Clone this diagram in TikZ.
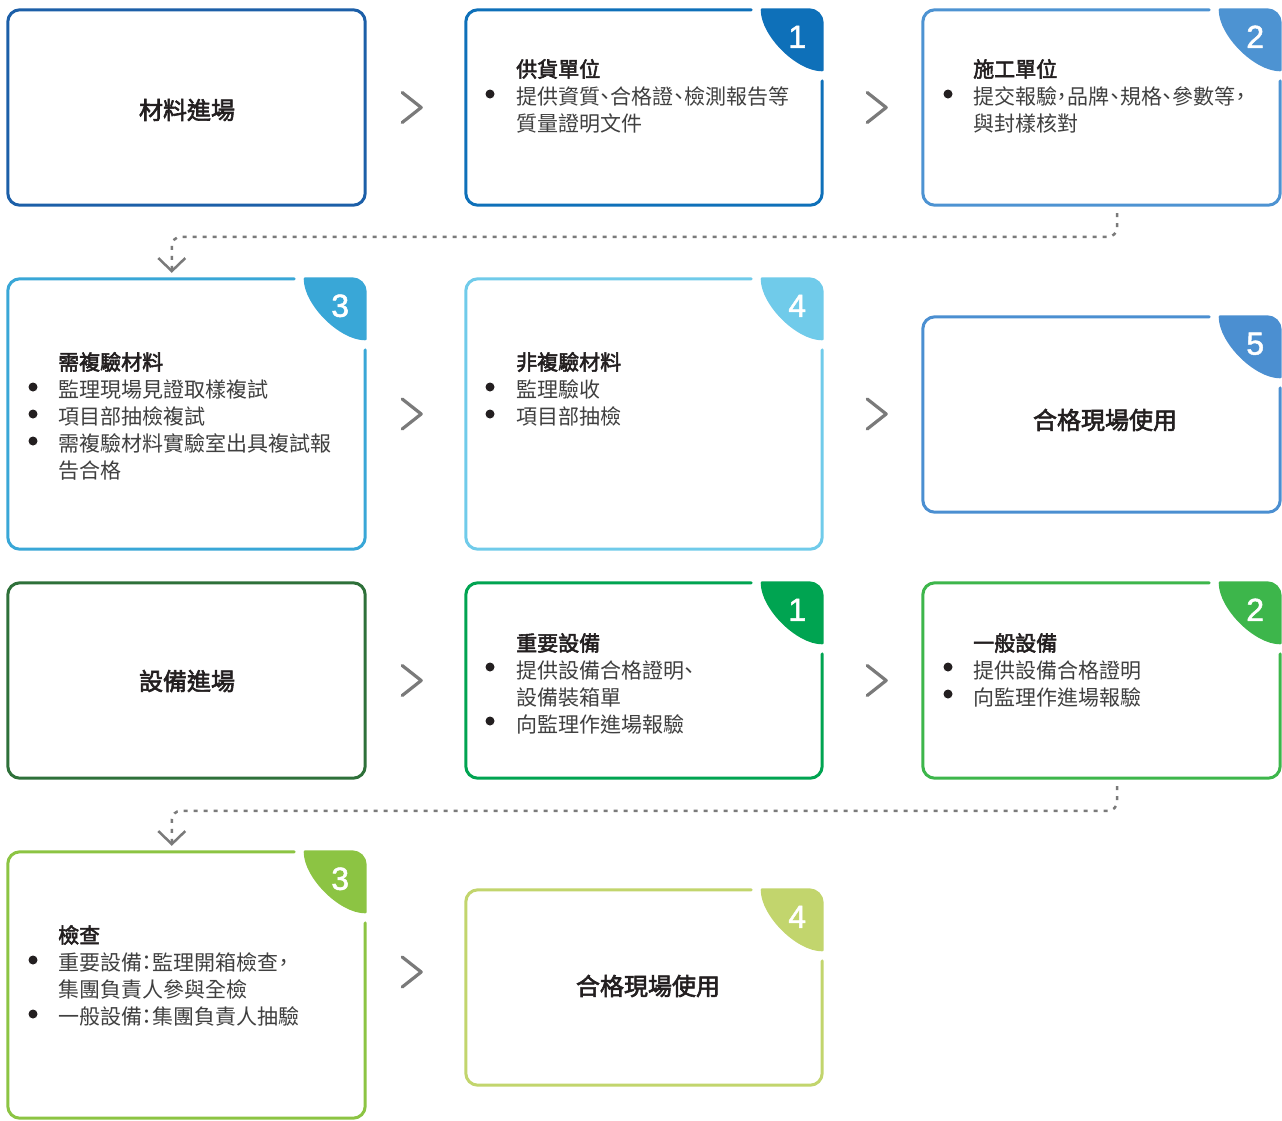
\documentclass[tikz,border=0pt]{standalone}
\usepackage{fontspec}
\setmainfont{Noto Sans CJK TC}[RawFeature={+palt}]
\newfontfamily\medfont{Noto Sans CJK TC}[RawFeature={+palt}, FakeBold=2.5]
\newfontfamily\numfont{Liberation Sans}[FakeBold=1.5]
\usetikzlibrary{calc,fit,arrows.meta}
\definecolor{cA1}{HTML}{1C5FA8}
\definecolor{cA2}{HTML}{0E70B9}
\definecolor{cA3}{HTML}{4D93D2}
\definecolor{cB1}{HTML}{39A7D7}
\definecolor{cB2}{HTML}{70CBEA}
\definecolor{cB3}{HTML}{4B8FD1}
\definecolor{cC1}{HTML}{2E7039}
\definecolor{cC2}{HTML}{00A451}
\definecolor{cC3}{HTML}{3DB64B}
\definecolor{cD1}{HTML}{8CC443}
\definecolor{cD2}{HTML}{C2D56D}
\definecolor{titlecol}{HTML}{231F20}
\definecolor{bodycol}{HTML}{404040}
\definecolor{bulcol}{HTML}{231F20}
\definecolor{arrowgray}{HTML}{7A7A7A}
\newcommand\mkcard[5]{% name, x0, y0, x1, y1
  \coordinate (#1-nw) at (#2,#3);
  \coordinate (#1-se) at (#4,#5);
  \node[fit=(#1-nw)(#1-se), inner sep=0pt] (#1) {};}
\newcommand\plaincard[2]{% name, colour
  \draw[cardline, draw=#2, rounded corners=12pt] (#1.north west) rectangle (#1.south east);}
\newcommand\badgecard[3]{% name, colour, number
  \draw[cardline, draw=#2, rounded corners=12pt]
    ($(#1.north east)+(-71,0)$) -- (#1.north west) -- (#1.south west)
    -- (#1.south east) -- ($(#1.north east)+(0,71)$);
  \filldraw[fill=#2, draw=#2, line width=3pt, line join=round]
    ($(#1.north east)+(-60,0)$) -- ($(#1.north east)+(-13,0)$)
    arc[start angle=270, end angle=360, radius=13]
    -- ($(#1.north east)+(0,60)$)
    .. controls ($(#1.north east)+(-25,60)$) and ($(#1.north east)+(-60,25)$) .. ($(#1.north east)+(-60,0)$) -- cycle;
  \node[badgenum] (#1-num) at ($(#1.north east)+(-25,27)$) {#3};}
\newcommand\chev[3]{% anchor, dx, dy
  \draw[chevline] ($(#1)+(#2,#3-15)$) -- ($(#1)+(#2+19,#3)$) -- ($(#1)+(#2,#3+15)$);}
\begin{document}
\begin{tikzpicture}[x=1pt,y=-1pt,
  cardline/.style={line width=3pt, line cap=round},
  ttl/.style={anchor=base west, inner sep=0pt, font=\fontsize{21}{27}\selectfont\medfont, text=titlecol},
  bod/.style={anchor=base west, inner sep=0pt, font=\fontsize{21}{27}\selectfont, text=bodycol},
  ctr/.style={inner sep=0pt, font=\fontsize{24}{28}\selectfont\medfont, text=titlecol},
  badgenum/.style={inner sep=0pt, text=white, font=\numfont\fontsize{32}{32}\selectfont},
  chevline/.style={line width=3.2pt, draw=arrowgray, line cap=round, line join=round},
  dotline/.style={line width=2.5pt, draw=arrowgray, dash pattern=on 4pt off 6pt, rounded corners=9pt,
    -{Straight Barb[length=13pt,width=27pt]}},
  bul/.style={fill=bulcol}]
\fill[white] (0,0) rectangle (1282,1120);
\useasboundingbox (0,0) rectangle (1282,1120);

% ---------- cards ----------
\mkcard{a1}{8}{10}{365}{205}
\mkcard{a2}{466}{10}{822}{205}
\mkcard{a3}{923}{10}{1280}{205}
\mkcard{b1}{8}{279}{365}{549}
\mkcard{b2}{466}{279}{822}{549}
\mkcard{b3}{923}{317}{1280}{512}
\mkcard{c1}{8}{583}{365}{778}
\mkcard{c2}{466}{583}{822}{778}
\mkcard{c3}{923}{583}{1280}{778}
\mkcard{d1}{8}{852}{365}{1118}
\mkcard{d2}{466}{890}{822}{1085}

\plaincard{a1}{cA1}
\badgecard{a2}{cA2}{1}
\badgecard{a3}{cA3}{2}
\badgecard{b1}{cB1}{3}
\badgecard{b2}{cB2}{4}
\badgecard{b3}{cB3}{5}
\plaincard{c1}{cC1}
\badgecard{c2}{cC2}{1}
\badgecard{c3}{cC3}{2}
\badgecard{d1}{cD1}{3}
\badgecard{d2}{cD2}{4}

% ---------- chevrons between cards ----------
\chev{a1.east}{37}{0}
\chev{a2.east}{45}{0}
\chev{b1.east}{37}{0}
\chev{b2.east}{45}{0}
\chev{c1.east}{37}{0}
\chev{c2.east}{45}{0}
\chev{d1.east}{37}{-13}

% ---------- dotted connectors ----------
\coordinate (ab-s) at ($(a3.south)+(15.5,8)$);
\coordinate (ab-e) at ($(b1.north west)+(164,-6)$);
\draw[dotline] (ab-s) |- ($(ab-e)+(0,-36)$) -- (ab-e);
\coordinate (cd-s) at ($(c3.south)+(15.5,8)$);
\coordinate (cd-e) at ($(d1.north west)+(164,-6)$);
\draw[dotline] (cd-s) |- ($(cd-e)+(0,-35)$) -- (cd-e);

% ---------- texts ----------
\node[ctr] (a1t) at (187,110) {材料進場};

\node[ttl] (a2t0) at (516,77) {供貨單位};
\fill[bul] (490,94) circle (4.5pt);
\node[bod] (a2t1) at (516,104) {提供資質、合格證、檢測報告等};
\node[bod] (a2t2) at (516,131) {質量證明文件};

\node[ttl] (a3t0) at (973,77) {施工單位};
\fill[bul] (948,94) circle (4.5pt);
\node[bod] (a3t1) at (973,104) {提交報驗，品牌、規格、參數等，};
\node[bod] (a3t2) at (973,131) {與封樣核對};

\node[ttl] (b1t0) at (58,370) {需複驗材料};
\fill[bul] (33,387) circle (4.5pt);
\node[bod] (b1t1) at (58,397) {監理現場見證取樣複試};
\fill[bul] (33,414) circle (4.5pt);
\node[bod] (b1t2) at (58,424) {項目部抽檢複試};
\fill[bul] (33,441) circle (4.5pt);
\node[bod] (b1t3) at (58,451) {需複驗材料實驗室出具複試報};
\node[bod] (b1t4) at (58,478) {告合格};

\node[ttl] (b2t0) at (516,370) {非複驗材料};
\fill[bul] (490,387) circle (4.5pt);
\node[bod] (b2t1) at (516,397) {監理驗收};
\fill[bul] (490,414) circle (4.5pt);
\node[bod] (b2t2) at (516,424) {項目部抽檢};

\node[ctr] (b3t) at (1105,420) {合格現場使用};

\node[ctr] (c1t) at (187,681) {設備進場};

\node[ttl] (c2t0) at (516,651) {重要設備};
\fill[bul] (490,667) circle (4.5pt);
\node[bod] (c2t1) at (516,678) {提供設備合格證明、};
\node[bod] (c2t2) at (516,705) {設備裝箱單};
\fill[bul] (490,721) circle (4.5pt);
\node[bod] (c2t3) at (516,732) {向監理作進場報驗};

\node[ttl] (c3t0) at (973,651) {一般設備};
\fill[bul] (948,667) circle (4.5pt);
\node[bod] (c3t1) at (973,678) {提供設備合格證明};
\fill[bul] (948,694) circle (4.5pt);
\node[bod] (c3t2) at (973,705) {向監理作進場報驗};

\node[ttl] (d1t0) at (58,943) {檢查};
\fill[bul] (33,960) circle (4.5pt);
\node[bod] (d1t1) at (58,970) {重要設備：監理開箱檢查，};
\node[bod] (d1t2) at (58,997) {集團負責人參與全檢};
\fill[bul] (33,1014) circle (4.5pt);
\node[bod] (d1t3) at (58,1024) {一般設備：集團負責人抽驗};

\node[ctr] (d2t) at (648,986) {合格現場使用};
\end{tikzpicture}
\end{document}
